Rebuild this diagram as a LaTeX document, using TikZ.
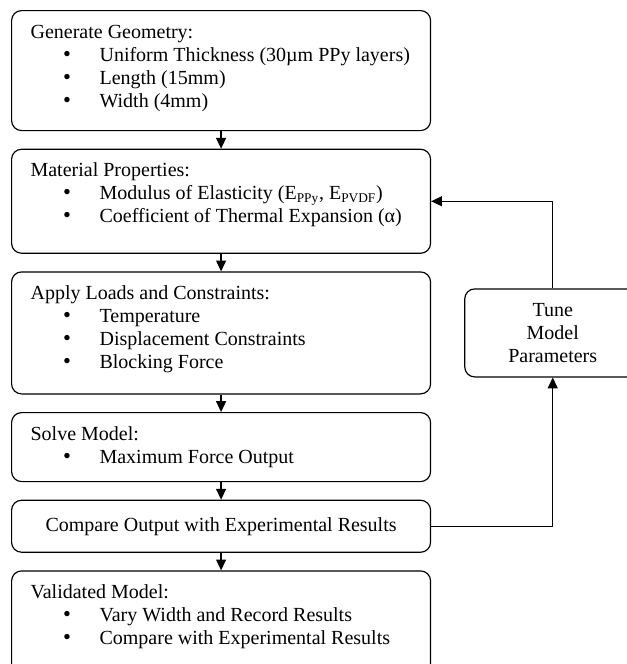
\documentclass[tikz,border=0pt]{standalone}
\usepackage{fontspec}
\setmainfont{Liberation Serif}
\usetikzlibrary{arrows.meta, positioning}

\newcommand{\bitem}[1]{\par\hspace*{19.5pt}\makebox[21.9pt][l]{\fontsize{13.5pt}{13.8pt}\selectfont\textbullet}#1}
\newcommand{\stagetext}[2]{\parbox[c][#1][t]{228.6pt}{\strut#2}}

\begin{document}
\begin{tikzpicture}[x=0.6pt, y=0.6pt, node distance=10.5pt, font=\fontsize{12pt}{13.8pt}\selectfont, stage/.style={draw, rounded corners=6pt, line width=0.7pt, inner xsep=11.4pt, inner ysep=6.9pt}, midbox/.style={draw, rounded corners=6pt, line width=0.7pt, minimum width=251.4pt, minimum height=31.2pt, align=center}, tunebox/.style={draw, rounded corners=6pt, line width=0.7pt, minimum width=105.6pt, minimum height=52.8pt, align=center}, flow/.style={-{Triangle[length=6.5pt,width=6pt]}, line width=0.7pt}]
    \useasboundingbox (0,0) rectangle (627,-664);

    % main column
    \node[stage, anchor=north west] (geom) at (11,-10) {\stagetext{58.2pt}{Generate Geometry:
        \bitem{Uniform Thickness (30µm PPy layers)}
        \bitem{Length (15mm)}
        \bitem{Width (4mm)}}};
    \node[stage, below=of geom] (matprop) {\stagetext{48.6pt}{Material Properties:
        \bitem{Modulus of Elasticity (E\textsubscript{PPy}, E\textsubscript{PVDF})}
        \bitem{Coefficient of Thermal Expansion (α)}}};
    \node[stage, below=of matprop] (loads) {\stagetext{59.4pt}{Apply Loads and Constraints:
        \bitem{Temperature}
        \bitem{Displacement Constraints}
        \bitem{Blocking Force}}};
    \node[stage, below=of loads] (solve) {\stagetext{27.6pt}{Solve Model:
        \bitem{Maximum Force Output}}};
    \node[midbox, below=of solve] (compare) {Compare Output with Experimental Results};
    \node[stage, below=of compare] (valid) {\stagetext{48.6pt}{Validated Model:
        \bitem{Vary Width and Record Results}
        \bitem{Compare with Experimental Results}}};

    % feedback loop
    \node[tunebox, right=19.8pt of loads] (tune) {Tune\\Model\\Parameters};

    \draw[flow] (geom) -- (matprop);
    \draw[flow] (matprop) -- (loads);
    \draw[flow] (loads) -- (solve);
    \draw[flow] (solve) -- (compare);
    \draw[flow] (compare) -- (valid);
    \draw[flow] (compare) -| (tune);
    \draw[flow] (tune) |- (matprop);
\end{tikzpicture}
\end{document}
